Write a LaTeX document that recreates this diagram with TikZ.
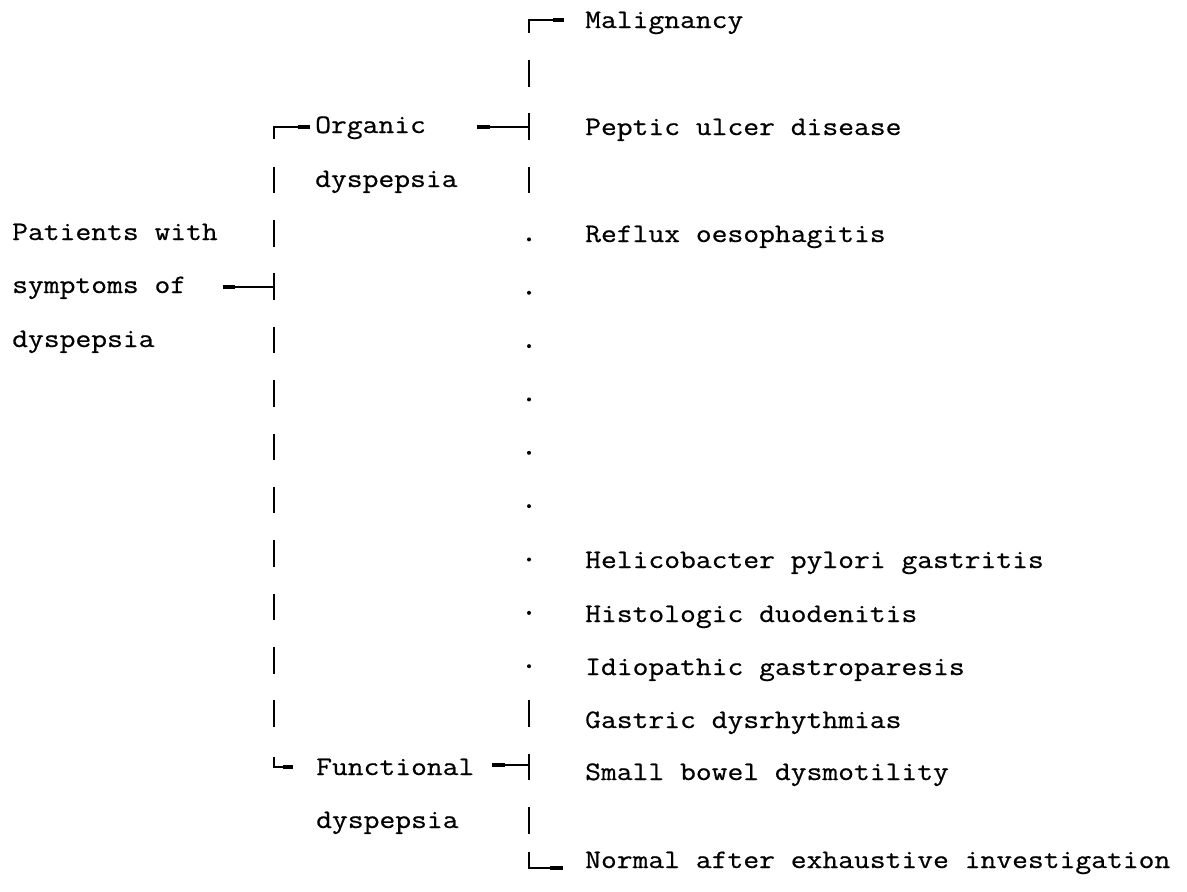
\documentclass[tikz,border=0pt]{standalone}
\usepackage{fontspec}
\newfontfamily\typewr[FakeStretch=1.15,FakeBold=0.6]{Latin Modern Mono}
\usetikzlibrary{calc}

\begin{document}
\begin{tikzpicture}[x=1pt,y=-1pt,
  lbl/.style={anchor=base west,inner sep=0pt,font=\typewr\fontsize{26.7}{32}\selectfont},
  bar/.style={line width=2pt},
  nub/.style={line width=3.6pt}]
\useasboundingbox (0,0) rectangle (1187,892);
% first level
\node[lbl] (pat) at (12,240) {Patients with};
\node[lbl] (sym) at (12,293) {symptoms of};
\node[lbl] (dys) at (12,347) {dyspepsia};
% second level
\node[lbl] (org)  at (315,133) {Organic};
\node[lbl] (orgd) at (315,187) {dyspepsia};
\node[lbl] (fun)  at (316,775) {Functional};
\node[lbl] (fund) at (316,828) {dyspepsia};
% third level
\node[lbl] (mal) at (585,28)  {Malignancy};
\node[lbl] (pep) at (585,135) {Peptic ulcer disease};
\node[lbl] (ref) at (585,242) {Reflux oesophagitis};
\node[lbl] (hel) at (585,568) {Helicobacter pylori gastritis};
\node[lbl] (his) at (585,622) {Histologic duodenitis};
\node[lbl] (idi) at (585,675) {Idiopathic gastroparesis};
\node[lbl] (gas) at (585,728) {Gastric dysrhythmias};
\node[lbl] (sma) at (585,780) {Small bowel dysmotility};
\node[lbl] (nor) at (585,868) {Normal after exhaustive investigation};

\coordinate (rootin) at (223,286.75);
\coordinate (jroot)  at (274,286.75);
\coordinate (ltop)   at (274,126.7);
\coordinate (lbot)   at (274,766.9);
\coordinate (orgin)  at (310,126.7);
\coordinate (funin)  at (293,766.9);
\coordinate (orgout) at (477,126.7);
\coordinate (jorg)   at (529,126.7);
\coordinate (funout) at (492,765);
\coordinate (jfun)   at (529,765);
\coordinate (rtop)   at (529,20);
\coordinate (malin)  at (564,20);
\coordinate (rbot)   at (529,868);
\coordinate (norin)  at (563,868);

% the bars
\foreach \r in {3,...,13}
  \draw[bar] (274,{20+53.35*\r-13.3}) -- ++(0,26.6);
\foreach \r in {1,2,3,13,14,15}
  \draw[bar] (529,{20+53.35*\r-13.3}) -- ++(0,26.6);
\foreach \r in {4,...,12}
  \fill (529,{20+53.35*\r+6}) circle (2);

% corners
\draw[bar] ($(ltop)+(0,12)$) |- (orgin);
\draw[bar] ($(lbot)+(0,-10)$) |- (funin);
\draw[bar] ($(rtop)+(0,13)$) |- (malin);
\draw[bar] ($(rbot)+(0,-16)$) |- (norin);
\draw[nub] ($(orgin)+(-12,0)$) -- (orgin);
\draw[nub] ($(funin)+(-10,0)$) -- (funin);
\draw[nub] ($(malin)+(-11,0)$) -- (malin);
\draw[nub] ($(norin)+(-13,0)$) -- (norin);

% tees
\draw[bar] (rootin) -- (jroot);
\draw[nub] (rootin) -- ++(12,0);
\draw[bar] (orgout) -- (jorg);
\draw[nub] (orgout) -- ++(13,0);
\draw[bar] (funout) -- (jfun);
\draw[nub] (funout) -- ++(13,0);
\end{tikzpicture}
\end{document}
